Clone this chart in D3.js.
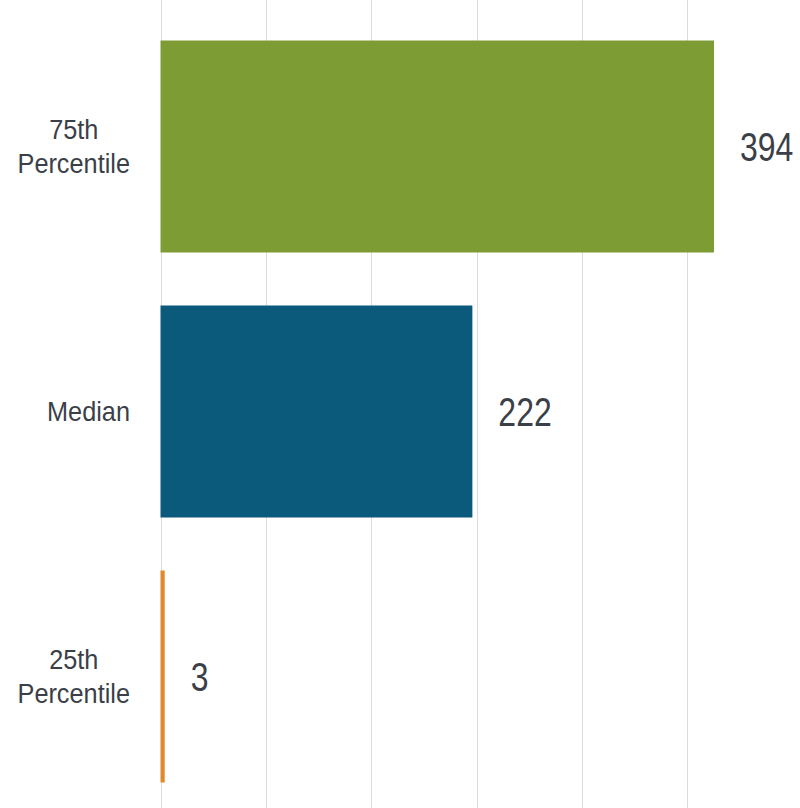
<!DOCTYPE html>
<html><head><meta charset="utf-8">
<script src="https://cdn.jsdelivr.net/npm/d3@7"></script>
<style>body{margin:0;background:#fff}svg{display:block}</style>
</head><body>
<svg id="c" width="800" height="808"></svg>
<script>
const categories = [["75th","Percentile"],["Median"],["25th","Percentile"]];
const values = [394, 222, 3];
const colors = ["#7E9C34", "#0B5A7C", "#E08A2E"];
const gridTicks = [0, 75, 150, 225, 300, 375];

const svg = d3.select("#c");
const x = d3.scaleLinear().domain([0, 394]).range([160.5, 714]);
const y = d3.scaleBand().domain(d3.range(values.length)).range([14, 809]).paddingInner(0.2).paddingOuter(0.1);

svg.append("g").selectAll("line").data(gridTicks).join("line")
  .attr("x1", d => Math.round(x(d)) + 0.5).attr("x2", d => Math.round(x(d)) + 0.5)
  .attr("y1", 0).attr("y2", 808)
  .attr("stroke", "#dcdcdc").attr("stroke-width", 1);

svg.append("g").selectAll("rect").data(values).join("rect")
  .attr("x", x(0)).attr("y", (d,i) => y(i))
  .attr("width", d => x(d) - x(0)).attr("height", y.bandwidth())
  .attr("fill", (d,i) => colors[i]);

const vsx = 0.78;
svg.append("g").selectAll("text").data(values).join("text")
  .attr("transform", (d,i) => `translate(${x(d) + 26},${y(i) + y.bandwidth()/2}) scale(${vsx},1)`)
  .attr("dy", "0.36em")
  .attr("font-family", "Liberation Sans, Arial, sans-serif")
  .attr("font-size", 41).attr("fill", "#3b3f48")
  .text(d => d);

const sx = 0.92;
const lab = svg.append("g");
categories.forEach((lines, i) => {
  const cy = y(i) + y.bandwidth()/2;
  const lh = 34;
  const t = lab.append("text")
    .attr("font-family", "Liberation Sans, Arial, sans-serif")
    .attr("font-size", 27.5).attr("fill", "#3b3f48")
    .attr("text-anchor", "middle");
  lines.forEach((s, j) => {
    t.append("tspan").attr("x", 0)
      .attr("y", cy + (j - (lines.length - 1)/2) * lh)
      .attr("dy", "0.36em").text(s);
  });
  const w = t.node().getBBox().width * sx;
  const cx = 130 - w/2;
  t.attr("transform", `translate(${cx},0) scale(${sx},1)`);
});
</script>
</body></html>
